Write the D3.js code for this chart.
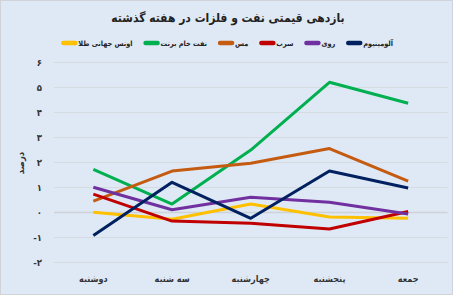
<!DOCTYPE html>
<html>
<head>
<meta charset="utf-8">
<script src="https://cdn.jsdelivr.net/npm/d3@7"></script>
<style>
  html, body { margin: 0; padding: 0; background: #fff; }
  svg { display: block; font-family: "DejaVu Sans Condensed", "DejaVu Sans", sans-serif; }
</style>
</head>
<body>
<svg id="chart" width="453" height="295"></svg>
<script>
(function(d3) {

  // Data
  var days = ["دوشنبه", "سه شنبه", "چهارشنبه", "پنجشنبه", "جمعه"];
  var seriesNames = ["اونس جهانی طلا", "نفت خام برنت", "مس", "سرب", "روی", "آلومینیوم"];
  var seriesColors = ["#ffc000", "#00b050", "#c55a11", "#c00000", "#7030a0", "#002060"];
  var gold = [0.0, -0.28, 0.33, -0.19, -0.24];
  var brent = [1.72, 0.33, 2.49, 5.2, 4.36];
  var copper = [0.45, 1.65, 1.96, 2.55, 1.25];
  var lead = [0.73, -0.35, -0.44, -0.67, 0.03];
  var zinc = [1.0, 0.1, 0.6, 0.4, -0.07];
  var aluminium = [-0.93, 1.2, -0.24, 1.65, 0.97];
  var yTicks = [-2, -1, 0, 1, 2, 3, 4, 5, 6];

  var seriesValues = [gold, brent, copper, lead, zinc, aluminium];
  var series = seriesNames.map(function(n, i) {
    return { name: n, color: seriesColors[i], values: seriesValues[i] };
  });

  var W = 453, H = 295;
  var svg = d3.select("#chart");

  // Persian digits for tick labels
  function fa(v) {
    var s = String(Math.abs(v)).replace(/[0-9]/g, function(c) { return "۰۱۲۳۴۵۶۷۸۹"[+c]; });
    return v < 0 ? "-" + s : s;
  }

  // Background and border
  svg.append("rect")
    .attr("x", 0.5).attr("y", 0.5)
    .attr("width", W - 1).attr("height", H - 1)
    .attr("fill", "#dee9f5")
    .attr("stroke", "#d0d4d9")
    ;

  // Scales
  var x = d3.scaleBand()
    .domain(days)
    .range([54, 447.5])
    ;

  var y = d3.scaleLinear()
    .domain([-2, 6])
    .range([262.3, 62.3])
    ;

  // Gridlines
  svg.append("g")
    .selectAll("line")
    .data(yTicks)
    .join("line")
    .attr("x1", 54).attr("x2", 447.5)
    .attr("y1", function(d) { return Math.round(y(d)) + 0.5; })
    .attr("y2", function(d) { return Math.round(y(d)) + 0.5; })
    .attr("stroke", function(d) { return d === 0 ? "#cfd2d6" : "#d6dbe1"; })
    .attr("stroke-width", function(d) { return d === 0 ? 1.6 : 1; })
    ;

  // Y axis labels
  var yAxis = d3.axisLeft(y)
    .tickValues(yTicks)
    .tickFormat(fa)
    .tickSize(0)
    .tickPadding(0)
    ;

  svg.append("g")
    .attr("transform", "translate(42,0)")
    .call(yAxis)
    .call(function(g) { g.select(".domain").remove(); })
    .selectAll("text")
    .attr("font-size", 9.5)
    .attr("font-weight", "bold")
    .attr("fill", "#333")
    .attr("font-family", "DejaVu Sans Condensed, DejaVu Sans, sans-serif")
    ;

  // Y title
  svg.append("text")
    .attr("transform", "translate(20,163) rotate(-90)")
    .attr("text-anchor", "middle")
    .attr("dominant-baseline", "central")
    .attr("font-size", 9.5)
    .attr("font-weight", "bold")
    .attr("fill", "#333")
    .text("درصد")
    ;

  // X axis labels
  var xAxis = d3.axisBottom(x)
    .tickSize(0)
    .tickPadding(0)
    ;

  svg.append("g")
    .attr("transform", "translate(0,276)")
    .call(xAxis)
    .call(function(g) { g.select(".domain").remove(); })
    .selectAll("text")
    .attr("font-size", 9)
    .attr("font-weight", "bold")
    .attr("fill", "#333")
    .attr("font-family", "DejaVu Sans Condensed, DejaVu Sans, sans-serif")
    ;

  // Lines
  var line = d3.line()
    .x(function(d, i) { return x(days[i]) + x.bandwidth() / 2; })
    .y(function(d) { return y(d); })
    ;

  svg.append("g")
    .selectAll("path")
    .data(series)
    .join("path")
    .attr("d", function(d) { return line(d.values); })
    .attr("fill", "none")
    .attr("stroke", function(d) { return d.color; })
    .attr("stroke-width", 3)
    .attr("stroke-linejoin", "round")
    ;

  // Title
  svg.append("text")
    .attr("x", 228)
    .attr("y", 18)
    .attr("text-anchor", "middle")
    .attr("dominant-baseline", "central")
    .attr("font-size", 12)
    .attr("font-weight", "bold")
    .attr("fill", "#222")
    .text("بازدهی قیمتی نفت و فلزات در هفته گذشته")
    ;

  // Legend, laid out right to left and fitted between x=63 and x=393
  var legend = svg.append("g");
  var right = 393, left = 63, markW = 15, gap = 13;

  var texts = series.slice().reverse().map(function(s) {
    return legend.append("text")
      .attr("y", 43)
      .attr("dominant-baseline", "central")
      .attr("font-size", 10)
      .attr("font-weight", "bold")
      .attr("fill", "#222")
      .text(s.name)
      ;
  });

  var textTotal = d3.sum(texts, function(t) { return t.node().getComputedTextLength(); });
  var room = (right - left) - series.length * markW - (series.length - 1) * gap;
  var fs = 10 * room / textTotal;

  var cursor = right;
  series.slice().reverse().forEach(function(s, i) {
    var t = texts[i].attr("font-size", fs);
    var w = t.node().getComputedTextLength();
    t.attr("x", cursor - w);
    legend.append("line")
      .attr("x1", cursor - w - markW).attr("x2", cursor - w - 3)
      .attr("y1", 43).attr("y2", 43)
      .attr("stroke", s.color)
      .attr("stroke-width", 4.5)
      .attr("stroke-linecap", "round")
      ;
    cursor = cursor - w - markW - gap;
  });

})(d3);
</script>
</body>
</html>
